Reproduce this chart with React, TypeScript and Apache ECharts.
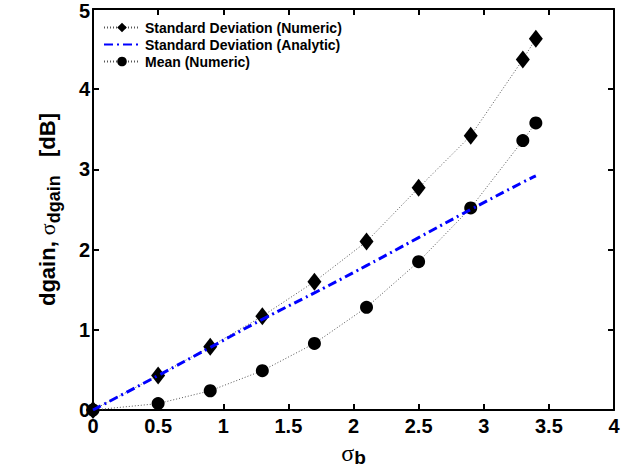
import React, { useEffect, useRef } from "react";
import * as echarts from "echarts";

const sigmaB = [0, 0.5, 0.9, 1.3, 1.7, 2.1, 2.5, 2.9, 3.3, 3.4];
const stdNumeric = [0, 0.43, 0.79, 1.17, 1.6, 2.1, 2.77, 3.42, 4.37, 4.63];
const stdAnalytic = [0, 0.43, 0.78, 1.13, 1.46, 1.8, 2.15, 2.5, 2.84, 2.92];
const meanNumeric = [0, 0.08, 0.24, 0.49, 0.83, 1.28, 1.85, 2.52, 3.36, 3.58];
const seriesNames = [
  "Standard Deviation (Numeric)",
  "Standard Deviation (Analytic)",
  "Mean (Numeric)",
];

const FONT = "Liberation Sans, Arial, Helvetica, sans-serif";
const SERIF = "Liberation Serif, Times New Roman, serif";

export default function App() {
  const ref = useRef<HTMLDivElement>(null);
  useEffect(() => {
    if (!ref.current) return;
    const chart = echarts.init(ref.current, null, { renderer: "svg" });
    const pair = (ys: number[]) => sigmaB.map((x, i) => [x, ys[i]]);
    const axisCommon = {
      axisLine: { show: true, onZero: false, lineStyle: { color: "#000", width: 2 } },
      axisTick: { show: true, inside: true, length: 6, lineStyle: { color: "#000", width: 2 } },
      splitLine: { show: false },
    };
    chart.setOption({
      animation: false,
      backgroundColor: "#fff",
      textStyle: { fontFamily: FONT },
      grid: { left: 93, right: 9, top: 9, bottom: 64, containLabel: false, outerBoundsMode: "none" },
      legend: {
        left: 98,
        top: 15,
        orient: "vertical",
        itemWidth: 36,
        itemHeight: 12,
        itemGap: 2,
        textStyle: { fontFamily: FONT, fontWeight: "bold", fontSize: 14, color: "#000", lineHeight: 15 },
        data: [
          { name: seriesNames[0] },
          { name: seriesNames[1], itemStyle: { opacity: 0 } },
          { name: seriesNames[2] },
        ],
      },
      xAxis: [
        {
          type: "value",
          min: 0,
          max: 4,
          interval: 0.5,
          ...axisCommon,
          axisLabel: { color: "#000", fontSize: 20, fontWeight: "bold", fontFamily: FONT, margin: 6 },
          name: "{s|σ}{sub|b}",
          nameLocation: "middle",
          nameGap: 26,
          nameTextStyle: {
            rich: {
              s: { fontFamily: SERIF, fontSize: 24, color: "#000" },
              sub: { fontFamily: FONT, fontWeight: "bold", fontSize: 19, color: "#000", padding: [10, 0, 0, 0] },
            },
          },
        },
        {
          type: "value",
          position: "top",
          min: 0,
          max: 4,
          interval: 0.5,
          ...axisCommon,
          axisLabel: { show: false },
        },
      ],
      yAxis: [
        {
          type: "value",
          min: 0,
          max: 5,
          interval: 1,
          ...axisCommon,
          axisLabel: {
            color: "#000",
            fontSize: 20,
            fontWeight: "bold",
            fontFamily: FONT,
            margin: 3,
            formatter: (v: number) => (v === 5 ? "{t|5}" : String(v)),
            rich: {
              t: { color: "#000", fontSize: 20, fontWeight: "bold", fontFamily: FONT, padding: [3, 0, 0, 0] },
            },
          },
          name: "{a|dgain, }{s|σ}{sub|dgain}{a|   [dB]}",
          nameLocation: "middle",
          nameRotate: 90,
          nameGap: 30,
          nameTextStyle: {
            rich: {
              a: { fontFamily: FONT, fontWeight: "bold", fontSize: 22, color: "#000" },
              s: { fontFamily: SERIF, fontSize: 22, color: "#000" },
              sub: { fontFamily: FONT, fontWeight: "bold", fontSize: 18, color: "#000", padding: [14, 0, 0, 0] },
            },
          },
        },
        {
          type: "value",
          position: "right",
          min: 0,
          max: 5,
          interval: 1,
          ...axisCommon,
          axisLabel: { show: false },
        },
      ],
      series: [
        {
          name: seriesNames[0],
          type: "line",
          data: pair(stdNumeric),
          symbol: "diamond",
          symbolSize: [14, 18],
          itemStyle: { color: "#000" },
          lineStyle: { color: "#555", width: 1, type: [1, 2] },
          z: 3,
        },
        {
          name: seriesNames[1],
          type: "line",
          data: pair(stdAnalytic),
          symbol: "none",
          showSymbol: false,
          smooth: true,
          itemStyle: { color: "#0000ff" },
          lineStyle: { color: "#0000ff", width: 3, type: [9, 4, 2, 4] },
          z: 4,
        },
        {
          name: seriesNames[2],
          type: "line",
          data: pair(meanNumeric),
          symbol: "circle",
          symbolSize: 13,
          itemStyle: { color: "#000" },
          lineStyle: { color: "#555", width: 1, type: [1, 2] },
          z: 3,
        },
      ],
    });
    return () => chart.dispose();
  }, []);
  return <div ref={ref} style={{ width: 623, height: 474, position: "absolute", left: 0, top: 0 }} />;
}
